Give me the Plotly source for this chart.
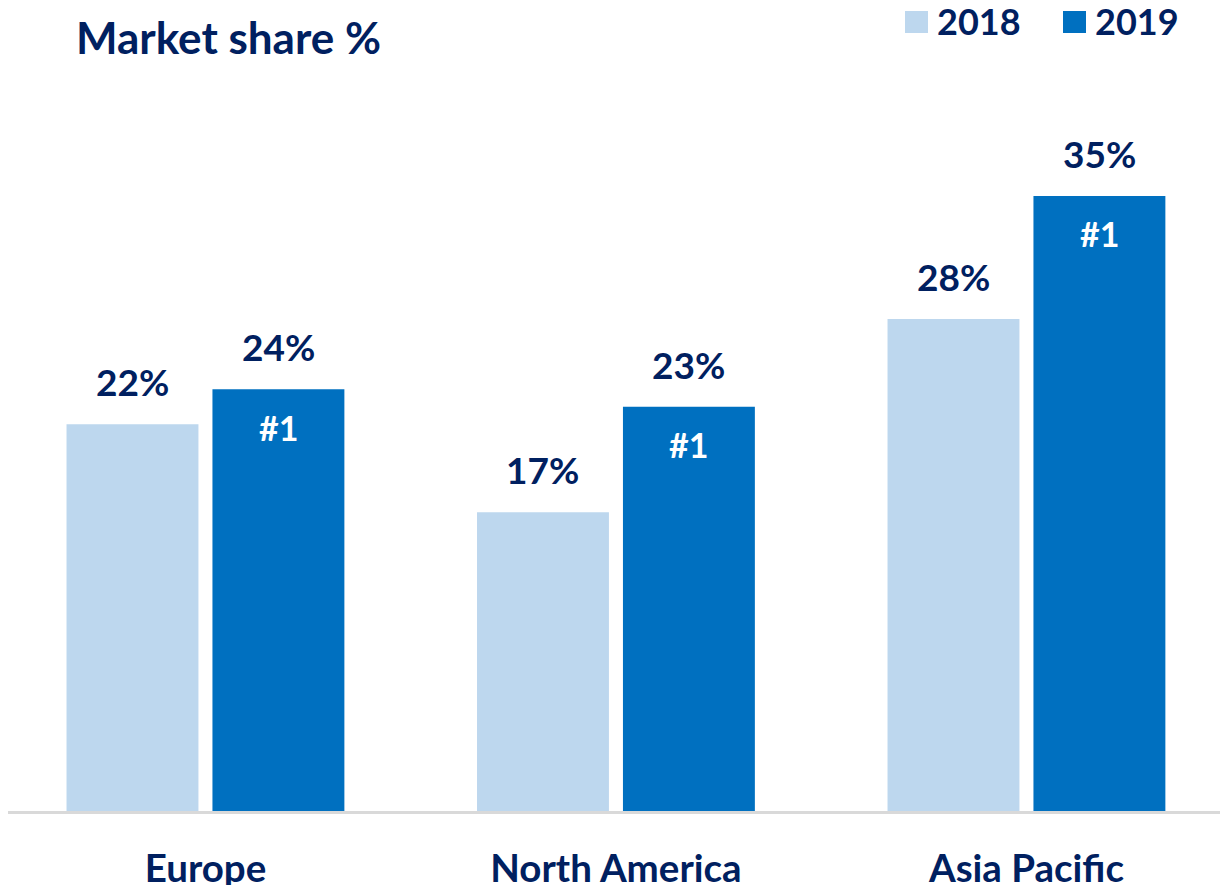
import plotly.graph_objects as go

# data
regions = ['Europe', 'North America', 'Asia Pacific']
years = ['2018', '2019']
share_2018 = [22, 17, 28]
share_2019 = [24, 23, 35]
rank_2019 = ['#1', '#1', '#1']

navy = '#002060'
colors = {'2018': '#BDD7EE', '2019': '#0070C0'}
font_family = 'Lato'

# the page body keeps an 8px margin, so the figure starts 8px in
OFF = 8
W, H = 1228 - OFF, 885 - OFF
m = dict(l=0, r=0, t=100, b=74)
plot_h = H - m['t'] - m['b']

fig = go.Figure()
for year, vals in zip(years, [share_2018, share_2019]):
    fig.add_trace(go.Bar(
        x=regions, y=vals, name=year,
        marker=dict(color=colors[year], line=dict(width=0)),
        showlegend=False, hoverinfo='skip',
    ))

x_range = [-0.481, 2.491]
cat_px = W / (x_range[1] - x_range[0])
bargap = 0.289
slot_px = cat_px * (1 - bargap) / 2

annotations = []
for i, region in enumerate(regions):
    for j, vals in enumerate([share_2018, share_2019]):
        annotations.append(dict(
            x=region, y=vals[i], xref='x', yref='y',
            text=f'{vals[i]}%', showarrow=False,
            xshift=(j - 0.5) * slot_px, yshift=18, yanchor='bottom',
            font=dict(family=font_family, size=37, color=navy, weight='bold'),
        ))
    annotations.append(dict(
        x=region, y=share_2019[i], xref='x', yref='y',
        text=rank_2019[i], showarrow=False,
        xshift=0.5 * slot_px, yshift=-38, yanchor='middle',
        font=dict(family=font_family, size=34, color='white', weight='bold'),
    ))

# legend drawn by hand (big square swatches), positions in page pixels
def py(y):
    return (H - m['b'] - (y - OFF)) / plot_h

shapes = []
legend_x = [905, 1063]
for year, lx in zip(years, legend_x):
    shapes.append(dict(
        type='rect', xref='paper', yref='paper',
        x0=(lx - OFF) / W, x1=(lx + 23 - OFF) / W,
        y0=py(33), y1=py(11),
        fillcolor=colors[year], line=dict(width=0),
    ))
    annotations.append(dict(
        x=(lx + 30 - OFF) / W, y=py(21),
        xref='paper', yref='paper', xanchor='left', yanchor='middle',
        text=year, showarrow=False,
        font=dict(family=font_family, size=36, color=navy, weight='bold'),
    ))

fig.update_layout(
    width=W, height=H,
    margin=dict(m, autoexpand=False),
    paper_bgcolor='white', plot_bgcolor='white',
    barmode='group', bargap=bargap, bargroupgap=0.096,
    title=dict(
        text='Market share %', x=(76 - OFF) / W, xanchor='left', xref='container',
        y=1 - (39 - OFF) / H, yanchor='middle', yref='container',
        font=dict(family=font_family, size=44, color=navy, weight='bold'),
    ),
    xaxis=dict(
        range=x_range, automargin=False,
        showline=True, linecolor='#D9D9D9', linewidth=3,
        ticks='outside', ticklen=22, tickcolor='rgba(0,0,0,0)',
        tickfont=dict(family=font_family, size=38.5, color=navy, weight='bold'),
        showgrid=False, zeroline=False,
    ),
    yaxis=dict(range=[0, 40], visible=False, automargin=False,
               showgrid=False, zeroline=False),
    annotations=annotations,
    shapes=shapes,
)

fig.write_html('out.html')
